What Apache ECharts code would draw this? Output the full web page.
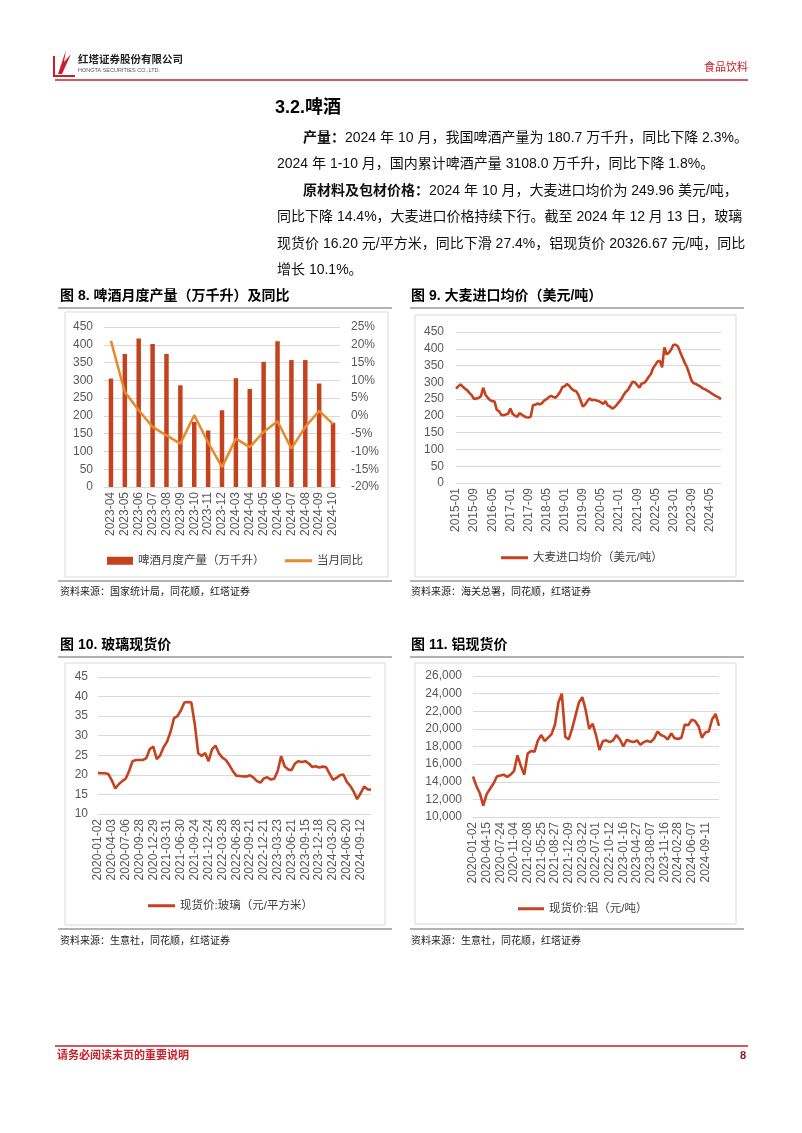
<!DOCTYPE html>
<html><head><meta charset="utf-8">
<script src="https://cdn.jsdelivr.net/npm/echarts@6/dist/echarts.min.js"></script>
<style>html,body{margin:0;padding:0;background:#fff}#c{width:802px;height:1133px}</style>
</head><body><div id="c"></div>
<script>
// ---------- DATA ----------
const beerCats = ['2023-04','2023-05','2023-06','2023-07','2023-08','2023-09','2023-10','2023-11','2023-12','2024-03','2024-04','2024-05','2024-06','2024-07','2024-08','2024-09','2024-10'];
const beerOutput = [305,374,418,402,374,286,183,159,216,306,276,352,410,357,357,291,180.7];
const beerYoY = [21.1,6.7,1.6,-3.1,-5.5,-7.8,0.2,-7.5,-14.4,-6.4,-8.8,-4.5,-1.5,-9.2,-3.1,1.4,-2.3];

const barleyMonths = [
'2015-01','2015-02','2015-03','2015-04','2015-05','2015-06','2015-07','2015-08','2015-09','2015-10','2015-11','2015-12',
'2016-01','2016-02','2016-03','2016-04','2016-05','2016-06','2016-07','2016-08','2016-09','2016-10','2016-11','2016-12',
'2017-01','2017-02','2017-03','2017-04','2017-05','2017-06','2017-07','2017-08','2017-09','2017-10','2017-11','2017-12',
'2018-01','2018-02','2018-03','2018-04','2018-05','2018-06','2018-07','2018-08','2018-09','2018-10','2018-11','2018-12',
'2019-01','2019-02','2019-03','2019-04','2019-05','2019-06','2019-07','2019-08','2019-09','2019-10','2019-11','2019-12',
'2020-01','2020-02','2020-03','2020-04','2020-05','2020-06','2020-07','2020-08','2020-09','2020-10','2020-11','2020-12',
'2021-01','2021-02','2021-03','2021-04','2021-05','2021-06','2021-07','2021-08','2021-09','2021-10','2021-11','2021-12',
'2022-01','2022-02','2022-03','2022-04','2022-05','2022-06','2022-07','2022-08','2022-09','2022-10','2022-11','2022-12',
'2023-01','2023-02','2023-03','2023-04','2023-05','2023-06','2023-07','2023-08','2023-09','2023-10','2023-11','2023-12',
'2024-01','2024-02','2024-03','2024-04','2024-05','2024-06','2024-07','2024-08','2024-09','2024-10'];
const barleyPrice = [
281,288,294,287,281,276,268,261,250,252,254,258,
284,263,254,247,244,243,218,214,203,202,204,206,
222,206,201,197,208,204,199,196,195,198,232,233,
237,234,238,246,250,256,260,256,254,262,272,286,
288,295,290,281,276,274,263,246,228,234,244,252,
247,248,246,244,240,236,244,231,228,222,226,233,
242,250,262,272,278,290,302,300,292,284,297,298,
305,316,324,342,352,362,364,345,404,383,388,398,
412,412,407,390,374,358,345,325,305,297,295,291,
287,282,279,275,271,266,262,258,255,250];

const glassDates = [
'2020-01-02','2020-01-23','2020-02-21','2020-03-13',
'2020-04-03','2020-04-24','2020-05-21','2020-06-12',
'2020-07-06','2020-07-27','2020-08-17','2020-09-07',
'2020-09-28','2020-10-27','2020-11-17','2020-12-08',
'2020-12-29','2021-01-20','2021-02-18','2021-03-10',
'2021-03-31','2021-04-22','2021-05-17','2021-06-08',
'2021-06-30','2021-07-21','2021-08-11','2021-09-02',
'2021-09-24','2021-10-22','2021-11-12','2021-12-03',
'2021-12-24','2022-01-17','2022-02-16','2022-03-08',
'2022-03-28','2022-04-20','2022-05-16','2022-06-06',
'2022-06-28','2022-07-19','2022-08-09','2022-08-30',
'2022-09-21','2022-10-19','2022-11-09','2022-11-30',
'2022-12-21','2023-01-12','2023-02-10','2023-03-02',
'2023-03-23','2023-04-14','2023-05-10','2023-05-31',
'2023-06-21','2023-07-14','2023-08-04','2023-08-25',
'2023-09-15','2023-10-16','2023-11-06','2023-11-27',
'2023-12-18','2024-01-09','2024-01-30','2024-02-28',
'2024-03-20','2024-04-11','2024-05-07','2024-05-29',
'2024-06-20','2024-07-11','2024-08-01','2024-08-22',
'2024-09-12','2024-10-14','2024-11-13','2024-12-13'];
const glassPrice = [
20.5,20.4,20.4,20.2,
18.6,16.5,17.6,18.4,
19.0,21.0,23.5,23.8,
23.8,23.8,24.3,26.6,
27.2,24.0,25.0,27.1,
28.5,31.0,34.5,35.0,
36.5,38.5,38.6,38.5,
33.0,25.5,24.8,25.6,
23.5,26.5,27.5,25.5,
24.4,23.8,22.5,21.0,
19.8,19.7,19.6,19.6,
19.9,19.3,18.4,18.0,
19.1,19.4,18.8,19.0,
21.0,24.8,22.2,21.4,
21.2,22.9,23.5,23.3,
23.5,22.9,22.0,22.2,
21.9,22.1,22.0,20.3,
18.7,19.2,19.9,20.1,
18.2,17.2,15.7,13.8,
15.3,17.0,16.3,16.2];
const glassTickStep = 4, glassLastTick = 76;

const aluDates = [
'2020-01-02','2020-01-23','2020-02-24','2020-03-20',
'2020-04-15','2020-05-08','2020-06-02','2020-06-29',
'2020-07-24','2020-08-14','2020-09-04','2020-10-09',
'2020-11-04','2020-11-25','2020-12-16','2021-01-14',
'2021-02-08','2021-03-09','2021-04-07','2021-04-29',
'2021-05-25','2021-06-16','2021-07-08','2021-07-30',
'2021-08-27','2021-09-16','2021-10-18','2021-11-11',
'2021-12-09','2021-12-30','2022-01-24','2022-02-28',
'2022-03-22','2022-04-14','2022-05-11','2022-06-06',
'2022-07-01','2022-07-22','2022-08-15','2022-09-06',
'2022-10-12','2022-11-03','2022-11-24','2022-12-16',
'2023-01-16','2023-02-13','2023-03-08','2023-03-30',
'2023-04-27','2023-05-22','2023-06-12','2023-07-13',
'2023-08-07','2023-08-28','2023-09-18','2023-10-20',
'2023-11-16','2023-12-07','2024-01-02','2024-01-24',
'2024-02-28','2024-03-20','2024-04-12','2024-05-13',
'2024-06-07','2024-07-02','2024-07-23','2024-08-13',
'2024-09-11','2024-10-10','2024-10-31','2024-11-21','2024-12-13'];
const aluPrice = [
14600,13500,12700,11300,
12600,13200,13800,14600,
14700,14800,14550,14800,
15200,17000,15800,14800,
17200,17500,17400,18700,
19300,18600,19000,19400,
20500,23000,24000,19100,
18800,20000,21500,23000,
23600,22100,20000,20600,
19300,17600,18600,18700,
18500,18700,19300,18800,
18000,18770,18600,18500,
18700,18200,18500,18650,
18500,18900,19700,19300,
19150,18800,19500,18950,
18850,19000,20500,20400,
21050,20900,20300,19000,
19600,19700,21100,21700,20330];
const aluTickStep = 4, aluLastTick = 68;

// ---------- STYLE ----------
const FONT = "'Liberation Sans', Arial, 'Noto Sans CJK SC', sans-serif";
const RED = '#C5421F';
const ORANGE = '#E8892A';
const GRID = '#D9D9D9';
const LBL = '#595959';
const BRAND = '#C8202A';

function txt(x, y, text, size, opt) {
  opt = opt || {};
  return {type:'text', x:x, y:y, silent:true, style:Object.assign({
    text:text, fontSize:size, fontFamily:FONT, fontWeight:opt.bold?'bold':'normal',
    fill:opt.color||'#111', align:opt.align||'left', verticalAlign:'middle'
  }, opt.rich ? {rich:opt.rich} : {})};
}
function hline(x1, x2, y, color, w) {
  return {type:'line', silent:true, shape:{x1:x1,y1:y,x2:x2,y2:y}, style:{stroke:color, lineWidth:w}};
}
function box(x, y, w, h) {
  return {type:'rect', silent:true, shape:{x:x,y:y,width:w,height:h}, style:{fill:'none', stroke:'#D9D9D9', lineWidth:1}};
}
const boldRich = {b:{fontWeight:'bold', fontSize:14, fontFamily:FONT, fill:'#111'}};

const graphic = [
  // header
  {type:'polyline', silent:true, shape:{points:[[54,56],[54,76],[75,76]]}, style:{stroke:BRAND, lineWidth:2, fill:'none'}},
  {type:'polygon', silent:true, shape:{points:[[58,74],[66,50],[64,62],[71,54],[62,74]]}, style:{fill:BRAND}},
  txt(78, 60, '红塔证券股份有限公司', 10.5, {bold:true, color:'#222'}),
  txt(78, 70, 'HONGTA SECURITIES CO.,LTD.', 5.5, {color:'#555'}),
  txt(748, 68, '食品饮料', 11, {color:BRAND, align:'right'}),
  hline(55, 748, 80, BRAND, 1.5),
  // section
  txt(275, 108, '3.2.啤酒', 18, {bold:true, color:'#000'}),
  txt(303, 138, '{b|产量：}2024 年 10 月，我国啤酒产量为 180.7 万千升，同比下降 2.3%。', 14, {rich:boldRich}),
  txt(277, 164.5, '2024 年 1-10 月，国内累计啤酒产量 3108.0 万千升，同比下降 1.8%。', 14),
  txt(303, 191, '{b|原材料及包材价格：}2024 年 10 月，大麦进口均价为 249.96 美元/吨，', 14, {rich:boldRich}),
  txt(277, 217.5, '同比下降 14.4%，大麦进口价格持续下行。截至 2024 年 12 月 13 日，玻璃', 14),
  txt(277, 244, '现货价 16.20 元/平方米，同比下滑 27.4%，铝现货价 20326.67 元/吨，同比', 14),
  txt(277, 270.5, '增长 10.1%。', 14),
  // figure titles
  txt(60, 296, '图 8. 啤酒月度产量（万千升）及同比', 14, {bold:true, color:'#000'}),
  txt(411, 296, '图 9. 大麦进口均价（美元/吨）', 14, {bold:true, color:'#000'}),
  txt(60, 645, '图 10. 玻璃现货价', 14, {bold:true, color:'#000'}),
  txt(411, 645, '图 11. 铝现货价', 14, {bold:true, color:'#000'}),
  hline(58, 392, 308, '#666', 1.2), hline(410, 744, 308, '#666', 1.2),
  hline(58, 392, 657, '#666', 1.2), hline(410, 744, 657, '#666', 1.2),
  box(65, 312, 323, 265), box(415, 315, 321, 262),
  box(65, 663, 320, 262), box(415, 663, 321, 261),
  hline(58, 392, 581, '#666', 1.2), hline(410, 744, 581, '#666', 1.2),
  hline(58, 392, 929, '#666', 1.2), hline(410, 744, 929, '#666', 1.2),
  txt(60, 592, '资料来源：国家统计局，同花顺，红塔证券', 10, {color:'#222'}),
  txt(411, 592, '资料来源：海关总署，同花顺，红塔证券', 10, {color:'#222'}),
  txt(60, 941, '资料来源：生意社，同花顺，红塔证券', 10, {color:'#222'}),
  txt(411, 941, '资料来源：生意社，同花顺，红塔证券', 10, {color:'#222'}),
  // footer
  hline(55, 748, 1046, BRAND, 1.5),
  txt(57, 1056, '请务必阅读末页的重要说明', 11, {bold:true, color:BRAND}),
  txt(746, 1056, '8', 11, {bold:true, color:'#8B1A1A', align:'right'})
];

const axisLbl = {color:LBL, fontSize:12, fontFamily:FONT};
function catAxis(idx, cats, interval, boundaryGap) {
  return {type:'category', gridIndex:idx, data:cats, boundaryGap:boundaryGap,
    axisLine:{show:true, lineStyle:{color:GRID, width:1}}, axisTick:{show:false},
    axisLabel:Object.assign({rotate:90, interval:interval, margin:5}, axisLbl),
    splitLine:{show:false}};
}
function valAxis(idx, min, max, step, margin, fmt, split) {
  return {type:'value', gridIndex:idx, min:min, max:max, interval:step,
    axisLine:{show:false}, axisTick:{show:false},
    axisLabel:Object.assign({margin:margin, formatter:fmt}, axisLbl),
    splitLine:{show:split, lineStyle:{color:GRID, width:1}}};
}
const legendText = {color:'#404040', fontSize:11.5, fontFamily:FONT};

const option = {
  animation:false,
  backgroundColor:'#fff',
  graphic:graphic,
  grid:[
    {left:104, top:327, width:236, height:160, outerBoundsMode:'none'},
    {left:456, top:332, width:265, height:151, outerBoundsMode:'none'},
    {left:98, top:677, width:273, height:137, outerBoundsMode:'none'},
    {left:473, top:676, width:246, height:141, outerBoundsMode:'none'}
  ],
  xAxis:[
    catAxis(0, beerCats, 0, true),
    catAxis(1, barleyMonths, 7, false),
    catAxis(2, glassDates, function(i){return i % glassTickStep === 0 && i <= glassLastTick;}, false),
    catAxis(3, aluDates, function(i){return i % aluTickStep === 0 && i <= aluLastTick;}, false)
  ],
  yAxis:[
    valAxis(0, 0, 450, 50, 11, '{value}', true),
    Object.assign(valAxis(0, -20, 25, 5, 11, '{value}%', false), {position:'right'}),
    valAxis(1, 0, 450, 50, 12, '{value}', true),
    valAxis(2, 10, 45, 5, 10, '{value}', true),
    valAxis(3, 10000, 26000, 2000, 11, function(v){return v.toLocaleString('en-US');}, true)
  ],
  legend:[
    {data:['啤酒月度产量（万千升）'], left:102, top:550, icon:'rect', itemWidth:26, itemHeight:8, textStyle:legendText},
    {data:['当月同比'], left:280, top:550, icon:'rect', itemWidth:27, itemHeight:3, textStyle:legendText},
    {data:['大麦进口均价（美元/吨）'], left:496, top:547, icon:'rect', itemWidth:27, itemHeight:3, textStyle:legendText},
    {data:['现货价:玻璃（元/平方米）'], left:143, top:895, icon:'rect', itemWidth:27, itemHeight:3, textStyle:legendText},
    {data:['现货价:铝（元/吨）'], left:513, top:898, icon:'rect', itemWidth:26, itemHeight:3, textStyle:legendText}
  ],
  series:[
    {name:'啤酒月度产量（万千升）', type:'bar', xAxisIndex:0, yAxisIndex:0, data:beerOutput, barWidth:4.5, itemStyle:{color:RED}},
    {name:'当月同比', type:'line', xAxisIndex:0, yAxisIndex:1, data:beerYoY, symbol:'none', lineStyle:{color:ORANGE, width:2.5}, itemStyle:{color:ORANGE}},
    {name:'大麦进口均价（美元/吨）', type:'line', xAxisIndex:1, yAxisIndex:2, data:barleyPrice, symbol:'none', lineStyle:{color:RED, width:2.6}, itemStyle:{color:RED}},
    {name:'现货价:玻璃（元/平方米）', type:'line', xAxisIndex:2, yAxisIndex:3, data:glassPrice, symbol:'none', lineStyle:{color:RED, width:2.6}, itemStyle:{color:RED}},
    {name:'现货价:铝（元/吨）', type:'line', xAxisIndex:3, yAxisIndex:4, data:aluPrice, symbol:'none', lineStyle:{color:RED, width:2.6}, itemStyle:{color:RED}}
  ]
};
const chart = echarts.init(document.getElementById('c'), null, {renderer:'canvas'});
chart.setOption(option);
</script>
</body></html>
